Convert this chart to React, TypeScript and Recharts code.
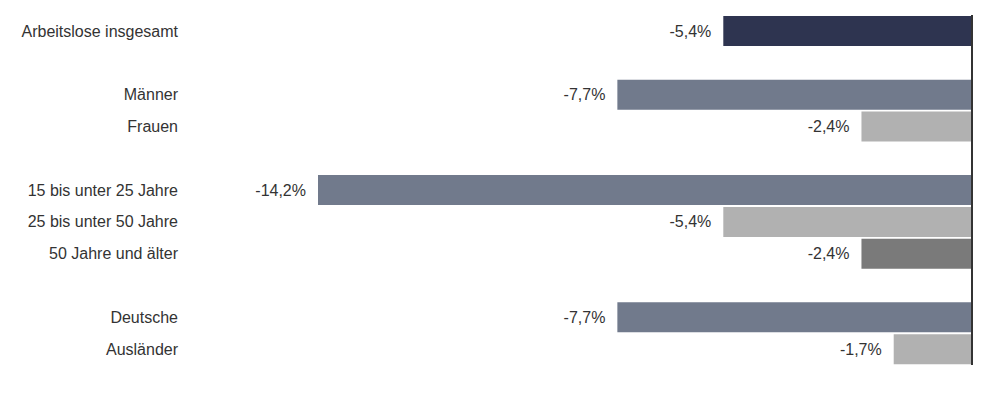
import { BarChart, Bar, XAxis, YAxis, Cell, LabelList, ReferenceLine } from "recharts"

// empty names leave the blank rows between the groups
const categories = [
  "Arbeitslose insgesamt",
  "",
  "Männer",
  "Frauen",
  " ",
  "15 bis unter 25 Jahre",
  "25 bis unter 50 Jahre",
  "50 Jahre und älter",
  "  ",
  "Deutsche",
  "Ausländer",
]

const changes = [-5.4, null, -7.7, -2.4, null, -14.2, -5.4, -2.4, null, -7.7, -1.7]

const barColors = [
  "#2e3450",
  "#ffffff",
  "#717a8c",
  "#b1b1b1",
  "#ffffff",
  "#717a8c",
  "#b1b1b1",
  "#7a7a7a",
  "#ffffff",
  "#717a8c",
  "#b1b1b1",
]

const data = categories.map((name, i) => ({ name, value: changes[i] }))

const FONT = "'Liberation Sans', Arial, sans-serif"

const fmt = (v: number) => v.toFixed(1).replace(".", ",") + "%"

function ValueLabel(props: any) {
  const { x, y, width, height, value } = props
  if (value == null) return null
  const left = Math.min(x, x + width)
  return (
    <text
      x={left - 12}
      y={y + height / 2}
      dy={5.5}
      textAnchor="end"
      fontSize={16}
      fontFamily={FONT}
      fill="#333"
    >
      {fmt(value)}
    </text>
  )
}

export default function App() {
  return (
    <BarChart
      width={991}
      height={394}
      data={data}
      layout="vertical"
      margin={{ top: 7, right: 27, bottom: 37, left: 0 }}
      barCategoryGap={1}
    >
      <XAxis type="number" domain={[-14.2, 0]} hide />
      <YAxis
        type="category"
        dataKey="name"
        width={310}
        axisLine={false}
        tickLine={false}
        tickMargin={134}
        interval={0}
        tick={{ fontSize: 16, fontFamily: FONT, fill: "#333" }}
      />
      <Bar dataKey="value" isAnimationActive={false}>
        {data.map((_, i) => (
          <Cell key={`cell-${i}`} fill={barColors[i]} />
        ))}
        <LabelList dataKey="value" content={<ValueLabel />} />
      </Bar>
      <ReferenceLine x={0} stroke="#333" strokeWidth={2} />
    </BarChart>
  )
}
